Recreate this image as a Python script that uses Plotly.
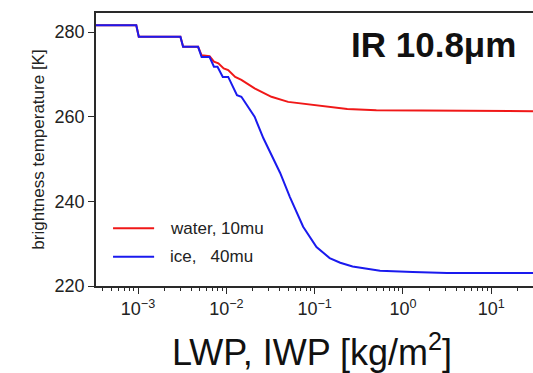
import plotly.graph_objects as go

# Brightness temperature at IR 10.8 um versus liquid / ice water path
water_path = [3.31e-4, 9.55e-4, 1.02e-3, 3.02e-3, 3.24e-3, 4.79e-3, 5.25e-3, 6.46e-3,
              7.24e-3, 8.13e-3, 9.33e-3, 0.0105, 0.0126, 0.0148, 0.0209, 0.0324,
              0.0501, 0.0955, 0.195, 0.234, 0.5, 3.16, 31.6]
water_tb = [281.6, 281.6, 278.9, 278.9, 276.5, 276.5, 274.5, 274.3,
            273.0, 272.6, 271.4, 271.0, 269.4, 268.7, 266.7, 264.7,
            263.5, 262.8, 262.0, 261.8, 261.5, 261.35, 261.3]

ice_path = [3.31e-4, 9.55e-4, 1.02e-3, 3.02e-3, 3.24e-3, 4.79e-3, 5.25e-3, 6.46e-3,
            7.24e-3, 7.94e-3, 9.12e-3, 0.0105, 0.0132, 0.0148, 0.0209, 0.0263,
            0.0407, 0.0525, 0.0741, 0.105, 0.148, 0.195, 0.269, 0.55,
            1.29, 3.16, 31.6]
ice_tb = [281.6, 281.6, 278.9, 278.9, 276.5, 276.5, 274.1, 274.1,
          271.8, 271.8, 269.4, 269.4, 265.1, 264.7, 260.0, 254.9,
          246.7, 241.0, 234.0, 229.2, 226.6, 225.5, 224.6, 223.6,
          223.3, 223.1, 223.1]

series_names = ["water, 10mu", "ice,   40mu"]
series_colors = ["#f01818", "#1a1aee"]

x_tickvals = [1e-3, 1e-2, 1e-1, 1e0, 1e1]
x_ticktext = ["10<sup>−3</sup>", "10<sup>−2</sup>", "10<sup>−1</sup>",
              "10<sup>0</sup>", "10<sup>1</sup>"]
y_tickvals = [220, 240, 260, 280]

minor_vals = [k * 10.0 ** n for n in range(-4, 2) for k in range(2, 10)]

fig = go.Figure()
fig.add_trace(go.Scatter(x=water_path, y=water_tb, mode="lines", name=series_names[0],
                         line=dict(color=series_colors[0], width=2), showlegend=False))
fig.add_trace(go.Scatter(x=ice_path, y=ice_tb, mode="lines", name=series_names[1],
                         line=dict(color=series_colors[1], width=2), showlegend=False))

axis_col = "#2a2a2a"
sans = "Liberation Sans, Arial, sans-serif"
tick_font = dict(family=sans, size=18, color="#222")

fig.update_xaxes(type="log", range=[-3.476, 1.473], showgrid=False, zeroline=False,
                 showline=True, linecolor=axis_col, linewidth=1.5, mirror=True,
                 ticks="outside", ticklen=6, tickwidth=1.2, tickcolor=axis_col,
                 tickvals=x_tickvals, ticktext=x_ticktext, tickfont=tick_font,
                 minor=dict(tickvals=minor_vals, ticks="outside", ticklen=3,
                            tickwidth=1, tickcolor=axis_col, showgrid=False))
fig.update_yaxes(range=[220, 284.5], showgrid=False, zeroline=False,
                 showline=True, linecolor=axis_col, linewidth=1.5,
                 ticks="outside", ticklen=6, tickwidth=1.2, tickcolor=axis_col,
                 tickvals=y_tickvals, tickfont=tick_font,
                 title=dict(text="brightness temperature [K]",
                            font=dict(family=sans, size=17, color="#222"),
                            standoff=6))

# legend drawn as short line samples with labels
legend_y = [0.2114, 0.1073]
for name, col, yy in zip(series_names, series_colors, legend_y):
    fig.add_shape(type="line", xref="paper", yref="paper", x0=0.039, x1=0.133,
                  y0=yy, y1=yy, line=dict(color=col, width=2))
    fig.add_annotation(xref="paper", yref="paper", x=0.165, y=yy,
                       text=name.replace("   ", "&nbsp;&nbsp;&nbsp;"),
                       showarrow=False, xanchor="left", yanchor="middle",
                       font=dict(family=sans, size=17, color="#222"))

fig.add_annotation(xref="paper", yref="paper", x=0.773, y=0.886, text="<b>IR 10.8μm</b>",
                   showarrow=False, xanchor="center", yanchor="middle",
                   font=dict(family=sans, size=35, color="#111"))

fig.add_annotation(xref="paper", yref="paper", x=0.495, y=-0.235,
                   text="LWP, IWP [kg/m<sup>2</sup>]", showarrow=False,
                   xanchor="center", yanchor="middle",
                   font=dict(family=sans, size=36, color="#111"))

fig.update_layout(width=533, height=373, margin=dict(l=96, r=0, t=13, b=87),
                  plot_bgcolor="white", paper_bgcolor="white")

fig.write_html("out.html")
